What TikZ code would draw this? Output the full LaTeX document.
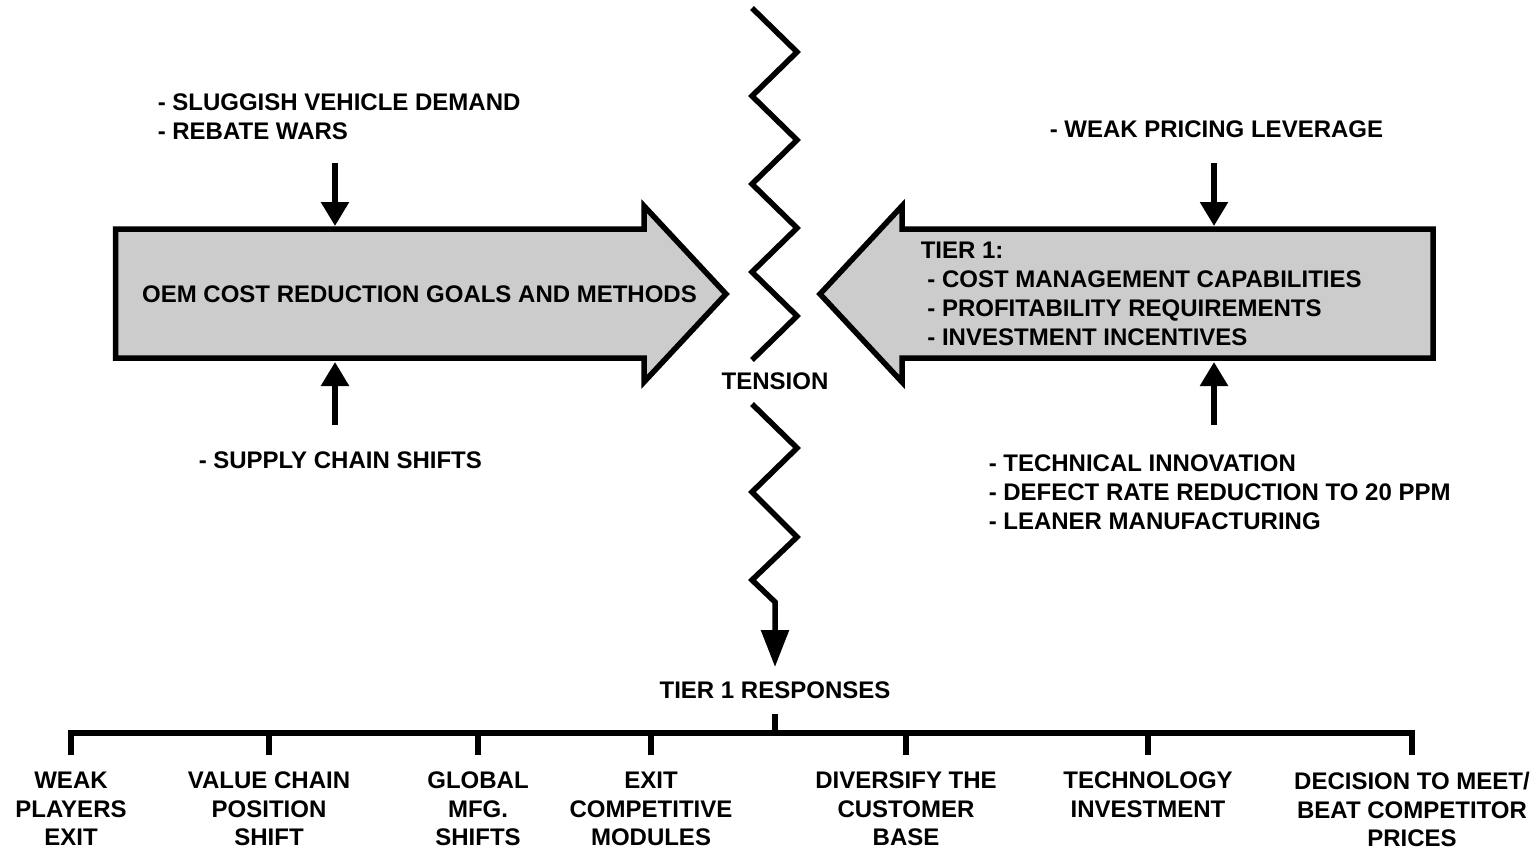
\documentclass[tikz,border=0pt]{standalone}
\usepackage{fontspec}
\setmainfont{Liberation Sans}
\usetikzlibrary{arrows.meta}
\definecolor{arrowgray}{RGB}{204,204,204}

\begin{document}
\begin{tikzpicture}[x=1pt,y=-1pt,line width=5.5pt,line join=miter,
    every node/.style={font=\bfseries\fontsize{24}{29}\selectfont,inner sep=0pt},
    push/.style={-{Triangle[width=27pt,length=24pt]}},
    resp/.style={align=center,anchor=north,font=\bfseries\fontsize{24}{28.5}\selectfont}]
    \useasboundingbox (0,0) rectangle (1538,849);

    % OEM arrow pushing right, tier 1 arrow pushing left
    \draw[fill=arrowgray] (115.5,229) -- (644,229) -- (644,206) -- (726,294) -- (644,382) -- (644,358) -- (115.5,358) -- cycle;
    \draw[fill=arrowgray] (1433,229) -- (902,229) -- (902,206) -- (820,294) -- (902,382) -- (902,358) -- (1433,358) -- cycle;
    \node (oem) at (419.5,294) {OEM COST REDUCTION GOALS AND METHODS};
    \node[anchor=north west,align=left] (tier) at (918,239.4) {TIER 1:\\\ - COST MANAGEMENT CAPABILITIES\\\ - PROFITABILITY REQUIREMENTS\\\ - INVESTMENT INCENTIVES};

    % pressures on the OEM side
    \node[anchor=north west,align=left] (demand) at (155,91.4) {- SLUGGISH VEHICLE DEMAND\\- REBATE WARS};
    \node[anchor=north west] (supply) at (196,449.4) {- SUPPLY CHAIN SHIFTS};
    \coordinate (oemin) at (335,163);
    \coordinate (oemtop) at (335,226);
    \coordinate (oemout) at (335,425);
    \coordinate (oembot) at (335,362);
    \draw[push] (oemin) -- (oemtop);
    \draw[push] (oemout) -- (oembot);

    % pressures on the tier 1 side
    \node[anchor=north west] (pricing) at (1047,118) {- WEAK PRICING LEVERAGE};
    \node[anchor=north west,align=left] (innov) at (986,452.4) {- TECHNICAL INNOVATION\\- DEFECT RATE REDUCTION TO 20 PPM\\- LEANER MANUFACTURING};
    \coordinate (tierin) at (1214,163);
    \coordinate (tiertop) at (1214,226);
    \coordinate (tierout) at (1214,425);
    \coordinate (tierbot) at (1214,362);
    \draw[push] (tierin) -- (tiertop);
    \draw[push] (tierout) -- (tierbot);

    % tension line
    \draw (752,8) -- (797,52) -- (752,96) -- (797,140) -- (752,184) -- (797,228) -- (752,272) -- (797,316) -- (752,360);
    \node (tension) at (775,381) {TENSION};
    \coordinate (down) at (775,667);
    \draw[-{Triangle[width=27pt,length=37pt]}] (752,404) -- (797,448) -- (752,492) -- (797,537) -- (752,580) -- (775,602) -- (down);
    \node (responses) at (775,690) {TIER 1 RESPONSES};

    % responses
    \node[resp] (r1) at (71,769.4) {WEAK\\PLAYERS\\EXIT};
    \node[resp] (r2) at (269,769.4) {VALUE CHAIN\\POSITION\\SHIFT};
    \node[resp] (r3) at (478,769.4) {GLOBAL\\MFG.\\SHIFTS};
    \node[resp] (r4) at (651,769.4) {EXIT\\COMPETITIVE\\MODULES};
    \node[resp] (r5) at (906,769.4) {DIVERSIFY THE\\CUSTOMER\\BASE};
    \node[resp] (r6) at (1148,769.4) {TECHNOLOGY\\INVESTMENT};
    \node[resp] (r7) at (1412,769.4) {DECISION TO MEET/\\BEAT COMPETITOR\\PRICES};

    \coordinate (bar) at (775,733);
    \draw ([yshift=-13pt]responses.south) -- (bar);
    \draw ([yshift=14pt]r1.north) -- (r1.north |- bar) -- (r7.north |- bar) -- ([yshift=14pt]r7.north);
    \foreach \r in {r2,r3,r4,r5,r6}
        \draw (\r.north |- bar) -- ([yshift=14pt]\r.north);
\end{tikzpicture}
\end{document}
